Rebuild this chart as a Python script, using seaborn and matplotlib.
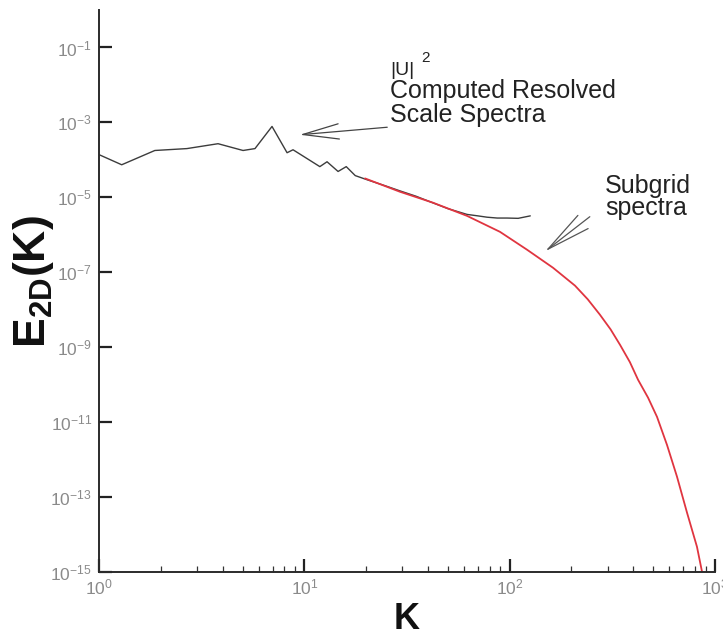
import matplotlib
matplotlib.use("Agg")
import matplotlib.pyplot as plt
import matplotlib.ticker as mticker
import seaborn as sns
import numpy as np

# ---- data ----
k_resolved = [1.0, 1.29, 1.87, 2.68, 3.80, 5.03, 5.75, 6.96, 8.24, 8.81, 11.9, 12.9,
              14.6, 16.0, 17.7, 20.2, 25.0, 29.3, 35.0, 41.0, 50.0, 62.0, 70.0, 77.6,
              87.0, 97.0, 110.0, 126.0]
E_resolved = [1.38e-4, 7.4e-5, 1.78e-4, 2.0e-4, 2.7e-4, 1.78e-4, 2.0e-4, 7.8e-4,
              1.55e-4, 1.86e-4, 6.6e-5, 8.9e-5, 4.9e-5, 6.6e-5, 3.8e-5, 2.95e-5,
              2.0e-5, 1.48e-5, 1.07e-5, 7.6e-6, 5.0e-6, 3.5e-6, 3.2e-6, 2.95e-6,
              2.8e-6, 2.8e-6, 2.75e-6, 3.2e-6]

k_subgrid = [19.75, 29.2, 42.3, 62.0, 89.7, 121.5, 162.6, 208.0, 240.0, 275.0, 310.0,
             345.0, 385.0, 422.0, 472.0, 522.0, 584.0, 653.0, 731.0, 817.0, 865.0]
E_subgrid = [3.2e-5, 1.41e-5, 7.2e-6, 3.2e-6, 1.2e-6, 4.0e-7, 1.32e-7, 4.4e-8, 1.9e-8,
             7.4e-9, 3.0e-9, 1.15e-9, 4.0e-10, 1.35e-10, 4.5e-11, 1.38e-11, 2.45e-12,
             3.5e-13, 3.8e-14, 4.7e-15, 1.0e-15]

y_tick_exps = [-15, -13, -11, -9, -7, -5, -3, -1]
x_tick_exps = [0, 1, 2, 3]

# ---- style ----
sns.set_style("white")
plt.rcParams['font.family'] = ['Liberation Sans', 'DejaVu Sans']
plt.rcParams['mathtext.fontset'] = 'custom'
plt.rcParams['mathtext.rm'] = 'Liberation Sans'
plt.rcParams['mathtext.it'] = 'Liberation Sans'
plt.rcParams['mathtext.bf'] = 'Liberation Sans:bold'

W, H = 723, 637
fig = plt.figure(figsize=(W / 100, H / 100), dpi=100)
ax = fig.add_axes([99 / W, 1 - 572 / H, (715 - 99) / W, (572 - 10) / H])

sns.lineplot(x=k_resolved, y=E_resolved, ax=ax, color='#3c3c3c', lw=1.0,
             estimator=None, sort=False)
sns.lineplot(x=k_subgrid, y=E_subgrid, ax=ax, color='#e03540', lw=1.3,
             estimator=None, sort=False)

ax.set_xscale('log')
ax.set_yscale('log')
ax.set_xlim(1, 1000)
ax.set_ylim(1e-15, 1.0)

ax.set_yticks([10.0 ** e for e in y_tick_exps])
ax.set_yticklabels([r'$10^{\mathregular{%d}}$' % e for e in y_tick_exps])
ax.yaxis.set_minor_locator(mticker.NullLocator())
ax.set_xticks([10.0 ** e for e in x_tick_exps])
ax.set_xticklabels([r'$10^{%d}$' % e for e in x_tick_exps])
ax.xaxis.set_minor_locator(mticker.LogLocator(base=10, subs=np.arange(2, 10)))
ax.xaxis.set_minor_formatter(mticker.NullFormatter())

for s in ['top', 'right']:
    ax.spines[s].set_visible(False)
for s in ['left', 'bottom']:
    ax.spines[s].set_color('#2b2b2b')
    ax.spines[s].set_linewidth(1.4)

ax.tick_params(axis='both', which='both', left=True, bottom=True, top=False, right=False)
ax.tick_params(axis='both', which='major', direction='in', length=9.5, width=1.6,
               color='#222222', labelcolor='#8a8a8a', labelsize=12.5, pad=5)
ax.tick_params(axis='x', which='minor', direction='in', length=4.5, width=0.9,
               color='#333333')
ax.tick_params(axis='x', which='major', pad=4)
ax.set_xlabel('')
ax.set_ylabel('')

# axis titles
fig.text(33 / W, 1 - 282 / H, r'$\mathbf{E_{2D}(K)}$', rotation=90, ha='center',
         va='center', fontsize=32, color='#111111')
fig.text(407 / W, 1 - 629 / H, 'K', ha='center', va='baseline', fontsize=26,
         fontweight='bold', color='#111111')

# annotations
def px(xp, yp):
    return (xp / W, 1 - yp / H)

fig.text(*px(390, 75), '|U|', fontsize=14, color='#222222', va='baseline')
fig.text(*px(421, 62), '2', fontsize=11, color='#222222', va='baseline')
fig.text(*px(390, 98), 'Computed Resolved', fontsize=18, color='#222222', va='baseline')
fig.text(*px(390, 122), 'Scale Spectra', fontsize=18, color='#222222', va='baseline')
fig.text(*px(605, 193), 'Subgrid', fontsize=18, color='#222222', va='baseline')
fig.text(*px(605, 215), 'spectra', fontsize=18, color='#222222', va='baseline')

ax.annotate('', xy=px(297, 135), xycoords='figure fraction',
            xytext=px(390, 127), textcoords='figure fraction',
            arrowprops=dict(arrowstyle='->,head_length=2.6,head_width=0.55',
                            color='#444444', lw=0.9, mutation_scale=10))
ax.annotate('', xy=px(543, 253), xycoords='figure fraction',
            xytext=px(592, 215), textcoords='figure fraction',
            arrowprops=dict(arrowstyle='->,head_length=3.2,head_width=0.6',
                            color='#555555', lw=0.9, mutation_scale=10))

fig.savefig('out.png', dpi=100)
